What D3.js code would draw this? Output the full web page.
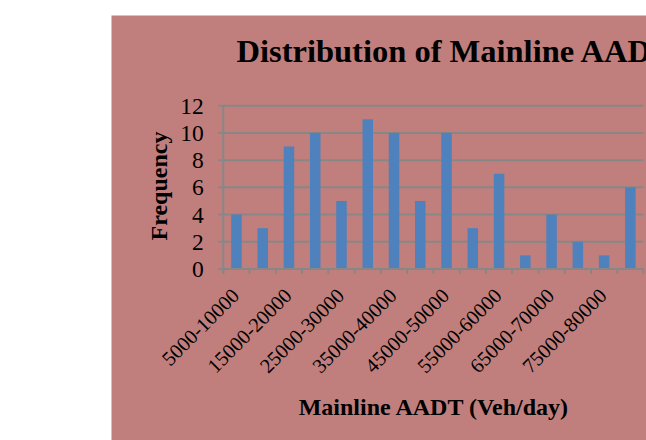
<!DOCTYPE html>
<html>
<head>
<meta charset="utf-8">
<script src="https://cdn.jsdelivr.net/npm/d3@7"></script>
<style>
  html, body { margin: 0; padding: 0; background: #ffffff; overflow: hidden; }
  svg { display: block; }
  text { font-family: "Liberation Serif", "Times New Roman", serif; fill: #000; }
</style>
</head>
<body>
<svg id="chart" width="646" height="440"></svg>
<script>
const categories = ["5000-10000","10000-15000","15000-20000","20000-25000","25000-30000","30000-35000",
  "35000-40000","40000-45000","45000-50000","50000-55000","55000-60000","60000-65000",
  "65000-70000","70000-75000","75000-80000","80000-85000"];
const frequency = [4,3,9,10,5,11,10,5,10,3,7,1,4,2,1,6];
const shownLabels = ["5000-10000","15000-20000","25000-30000","35000-40000","45000-50000",
  "55000-60000","65000-70000","75000-80000"];
const yTicks = [0,2,4,6,8,10,12];
const title = "Distribution of Mainline AADT";
const xTitle = "Mainline AADT (Veh/day)";
const yTitle = "Frequency";

(function () {
const svg = d3.select("#chart");
const W = 646, H = 440;
const pLeft = 223.3, pRight = 643.5, pTop = 105.7, pBottom = 269;
const grid = "#878787";

svg.append("rect").attr("x", 111.5).attr("y", 15.5).attr("width", W - 111.5).attr("height", H - 15.5)
  .attr("fill", "#C07F7C");

const x = d3.scaleBand().domain(categories).range([pLeft, pRight]).paddingInner(0.6).paddingOuter(0.3);
const y = d3.scaleLinear().domain([0, 12]).range([pBottom, pTop]);

// gridlines
svg.append("g").selectAll("line").data(yTicks.filter(d => d > 0)).join("line")
  .attr("x1", pLeft - 5).attr("x2", pRight)
  .attr("y1", d => y(d)).attr("y2", d => y(d))
  .attr("stroke", grid).attr("stroke-width", 2);

// y axis line
svg.append("line").attr("x1", pLeft).attr("x2", pLeft).attr("y1", y(12)).attr("y2", pBottom + 4)
  .attr("stroke", grid).attr("stroke-width", 2);

// y tick labels
const yAxis = d3.axisLeft(y).tickValues(yTicks).tickSize(0).tickPadding(19.5).tickFormat(d3.format("d"));
const gy = svg.append("g").attr("transform", `translate(${pLeft},0)`).call(yAxis);
gy.select(".domain").remove();
gy.selectAll("text").attr("font-size", 23.5).attr("font-family", "Liberation Serif").attr("fill", "#000");

// bars
svg.append("g").selectAll("rect").data(frequency).join("rect")
  .attr("x", (d, i) => x(categories[i]))
  .attr("width", x.bandwidth())
  .attr("y", d => y(d))
  .attr("height", d => y(0) - y(d))
  .attr("fill", "#4F81BD");

// x axis line and ticks at band boundaries
svg.append("line").attr("x1", pLeft - 5).attr("x2", pRight).attr("y1", pBottom).attr("y2", pBottom)
  .attr("stroke", grid).attr("stroke-width", 2);
const step = x.step();
const bounds = categories.map(c => x(c) - step * x.paddingInner() / 2).concat([pRight]);
svg.append("g").selectAll("line").data(bounds).join("line")
  .attr("x1", d => d).attr("x2", d => d).attr("y1", pBottom).attr("y2", pBottom + 5)
  .attr("stroke", grid).attr("stroke-width", 2);

// x labels
svg.append("g").selectAll("text").data(shownLabels).join("text")
  .attr("transform", d => `translate(${x(d) + x.bandwidth() / 2 + 4},${pBottom + 28}) rotate(-45)`)
  .attr("text-anchor", "end")
  .attr("font-size", 20.5)
  .text(d => d);

// titles
svg.append("text").attr("x", 236.5).attr("y", 61.5).attr("font-size", 32.5).attr("font-weight", "bold")
  .text(title);
svg.append("text").attr("x", (pLeft + pRight) / 2).attr("y", 415).attr("text-anchor", "middle")
  .attr("font-size", 24).attr("font-weight", "bold").text(xTitle);
svg.append("text").attr("transform", `translate(167,186) rotate(-90)`).attr("text-anchor", "middle")
  .attr("font-size", 24).attr("font-weight", "bold").text(yTitle);
})();
</script>
</body>
</html>
